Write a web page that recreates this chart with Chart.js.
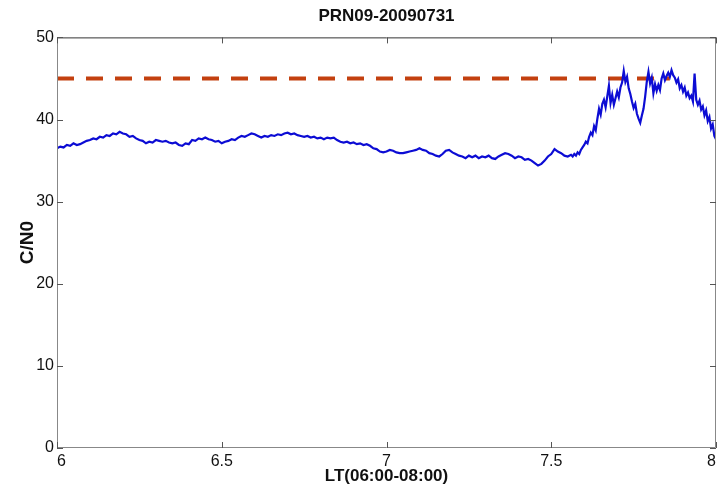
<!DOCTYPE html>
<html>
<head>
<meta charset="utf-8">
<title>PRN09-20090731</title>
<script src="https://cdn.jsdelivr.net/npm/chart.js@4.4.1/dist/chart.umd.min.js"></script>
<style>
  html, body { margin: 0; padding: 0; background: #fff; overflow: hidden; }
  canvas { display: block; }
</style>
</head>
<body>
<canvas id="cn0Chart" width="720" height="494"></canvas>
<script>
// C/N0 of PRN09, local time 06:00-08:00
// samples every 0.01 h up to 7.55, then every 0.005 h (noisier part)
const earlyStart = 6.0;
const earlyStep = 0.01;
const cn0Early = [
  36.5, 36.7, 36.6, 36.9, 36.8, 37.1, 36.9, 37.0, 37.2, 37.4,
  37.5, 37.7, 37.6, 37.9, 37.8, 38.1, 38.0, 38.3, 38.2, 38.5,
  38.3, 38.2, 37.9, 38.0, 37.7, 37.5, 37.4, 37.1, 37.3, 37.2,
  37.5, 37.4, 37.3, 37.4, 37.2, 37.1, 37.2, 36.9, 36.8, 37.1,
  37.0, 37.5, 37.4, 37.7, 37.6, 37.8, 37.6, 37.5, 37.3, 37.4,
  37.1, 37.3, 37.4, 37.6, 37.5, 37.8, 38.0, 37.9, 38.1, 38.3,
  38.2, 38.0, 37.8, 38.0, 37.9, 38.1, 38.0, 38.2, 38.1, 38.3,
  38.4, 38.2, 38.3, 38.1, 38.0, 37.9, 38.0, 37.8, 37.9, 37.7,
  37.8, 37.6, 37.8, 37.7, 37.8, 37.5, 37.3, 37.2, 37.3, 37.1,
  37.2, 37.0, 37.1, 36.9, 37.0, 36.8, 36.5, 36.4, 36.1, 36.0,
  36.1, 36.3, 36.2, 36.0, 35.9, 35.9, 36.0, 36.1, 36.2, 36.3,
  36.5, 36.3, 36.2, 35.9, 35.8, 35.6, 35.5, 35.8, 36.2, 36.3,
  36.0, 35.8, 35.6, 35.5, 35.3, 35.6, 35.4, 35.6, 35.3, 35.5,
  35.4, 35.6, 35.3, 35.2, 35.5, 35.7, 35.9, 35.8, 35.6, 35.3,
  35.5, 35.4, 35.1, 35.2, 35.0, 34.7, 34.4, 34.6, 35.0, 35.5,
  35.8, 36.4, 36.1, 35.9, 35.6, 35.5
];

const lateStart = 7.56;
const lateStep = 0.005;
const cn0Late = [
  35.7, 35.5, 35.8, 35.6, 36.0, 35.8, 36.3, 36.6, 36.9, 37.3,
  37.1, 37.9, 38.4, 38.1, 39.2, 38.7, 40.1, 41.3, 40.6, 41.9,
  42.4, 41.5, 42.8, 44.1, 42.0, 43.0, 41.8, 42.6, 43.4, 42.7,
  43.9, 44.5, 45.9, 44.6, 45.2, 43.8, 43.1, 42.2, 41.4, 41.9,
  40.7, 40.1, 39.6, 40.5, 41.3, 42.8, 44.6, 45.8, 44.4, 45.1,
  43.2, 44.3, 43.5, 44.2, 43.6, 45.0, 45.6, 44.8, 45.3, 45.7,
  45.2, 46.0, 45.4, 45.1, 44.5, 44.9, 43.8, 44.2, 43.4, 43.9,
  42.9, 43.3, 42.6, 42.9, 42.2, 45.6, 42.4, 41.8, 42.3, 41.2,
  41.6, 40.5, 41.1, 39.8, 40.3, 38.9, 39.4, 38.0, 37.6
];

// threshold line
const thresholdTime = [6.0, 7.86];
const thresholdValue = [45, 45];

const font = "'Liberation Sans', Arial, sans-serif";

const cn0Points = cn0Early.map((v, i) => ({ x: earlyStart + i * earlyStep, y: v }))
  .concat(cn0Late.map((v, i) => ({ x: lateStart + i * lateStep, y: v })));

const thresholdPoints = thresholdTime.map((t, i) => ({ x: t, y: thresholdValue[i] }));

// matlab style box with inward ticks
const axesBox = {
  id: 'axesBox',
  afterDatasetsDraw(chart) {
    const { ctx, chartArea: a, scales } = chart;
    const x = scales.x, y = scales.y;
    ctx.save();
    ctx.lineWidth = 1;
    ctx.strokeStyle = '#888';
    ctx.beginPath();
    ctx.moveTo(a.left + 0.5, a.top);
    ctx.lineTo(a.left + 0.5, a.bottom - 0.5);
    ctx.lineTo(a.right - 0.5, a.bottom - 0.5);
    ctx.lineTo(a.right - 0.5, a.top);
    ctx.stroke();
    ctx.strokeStyle = '#333';
    ctx.beginPath();
    ctx.moveTo(a.left, a.top + 0.5);
    ctx.lineTo(a.right, a.top + 0.5);
    ctx.stroke();

    ctx.strokeStyle = '#555';
    ctx.beginPath();
    x.ticks.forEach(t => {
      const px = Math.round(x.getPixelForValue(t.value)) + 0.5;
      ctx.moveTo(px, a.bottom);
      ctx.lineTo(px, a.bottom - 6);
      ctx.moveTo(px, a.top);
      ctx.lineTo(px, a.top + 6);
    });
    y.ticks.forEach(t => {
      const py = Math.round(y.getPixelForValue(t.value)) + 0.5;
      ctx.moveTo(a.left, py);
      ctx.lineTo(a.left + 6, py);
      ctx.moveTo(a.right, py);
      ctx.lineTo(a.right - 6, py);
    });
    ctx.stroke();
    ctx.restore();
  }
};

new Chart(document.getElementById('cn0Chart').getContext('2d'), {
  type: 'line',
  data: {
    datasets: [
      {
        label: 'C/N0',
        data: cn0Points,
        borderColor: '#0c0cd4',
        borderWidth: 2.2,
        pointRadius: 0,
        tension: 0
      },
      {
        label: 'threshold',
        data: thresholdPoints,
        borderColor: '#c3400f',
        borderWidth: 4,
        borderDash: [17, 12],
        borderCapStyle: 'butt',
        pointRadius: 0
      }
    ]
  },
  options: {
    responsive: false,
    animation: false,
    devicePixelRatio: 1,
    layout: { padding: { left: 0, right: 1, top: 0, bottom: 0 } },
    plugins: {
      legend: { display: false },
      tooltip: { enabled: false },
      title: {
        display: true,
        text: 'PRN09-20090731',
        fullSize: false,
        color: '#111',
        font: { family: font, size: 17, weight: 'bold' },
        padding: { top: 6, bottom: 11 }
      }
    },
    scales: {
      x: {
        type: 'linear',
        min: 6,
        max: 8,
        afterFit: scale => { scale.height = 46; },
        grid: { drawOnChartArea: false, drawTicks: false },
        border: { display: false },
        ticks: {
          stepSize: 0.5,
          align: 'inner',
          maxRotation: 0,
          autoSkip: false,
          padding: 4,
          color: '#111',
          font: { family: font, size: 16 },
          callback: v => String(v)
        },
        title: {
          display: true,
          text: 'LT(06:00-08:00)',
          color: '#111',
          font: { family: font, size: 17, weight: 'bold' },
          padding: { top: 0, bottom: 7 }
        }
      },
      y: {
        min: 0,
        max: 50,
        afterFit: scale => { scale.width = 57; },
        grid: { drawOnChartArea: false, drawTicks: false },
        border: { display: false },
        ticks: {
          stepSize: 10,
          padding: 3,
          color: '#111',
          font: { family: font, size: 16 }
        },
        title: {
          display: true,
          text: 'C/N0',
          color: '#111',
          font: { family: font, size: 19, weight: 'bold' },
          padding: { top: 16, bottom: 0 }
        }
      }
    }
  },
  plugins: [axesBox]
});
</script>
</body>
</html>
